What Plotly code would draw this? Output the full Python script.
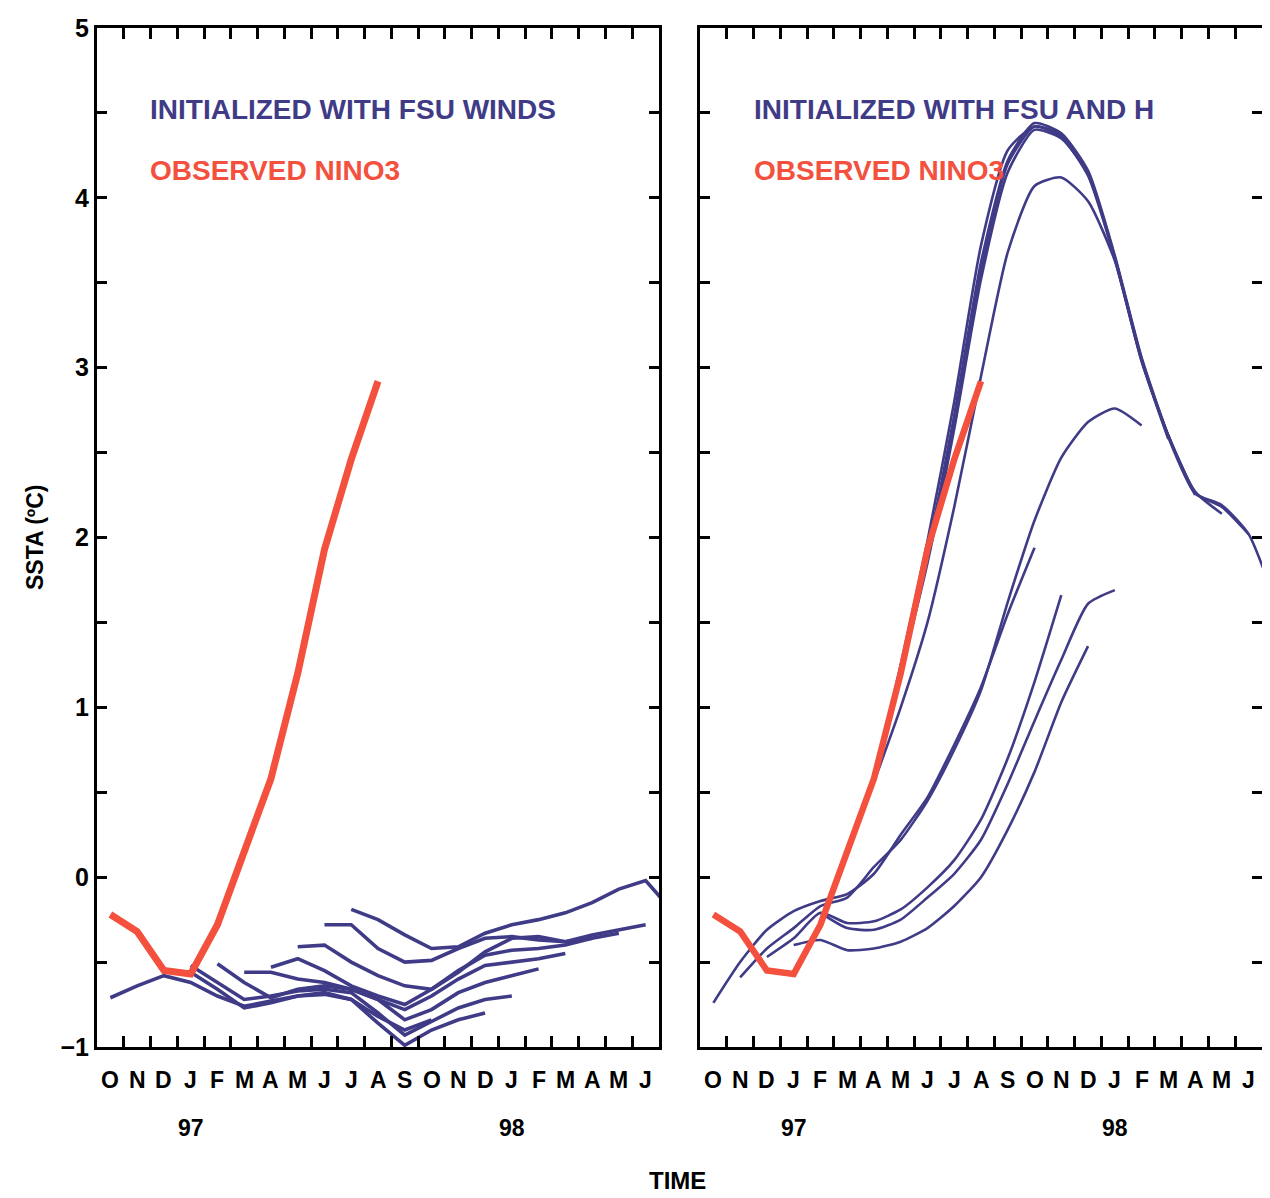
import plotly.graph_objects as go

# ---------------- data ----------------
months = ["O", "N", "D", "J", "F", "M", "A", "M", "J", "J", "A",
          "S", "O", "N", "D", "J", "F", "M", "A", "M", "J"]
year_labels = ["97", "98"]
year_month_index = [3, 15]
y_major = [-1, 0, 1, 2, 3, 4, 5]

# observed NINO3 (starts Oct 96, month index 0)
observed_nino3 = [-0.22, -0.32, -0.55, -0.57, -0.28, 0.15, 0.58, 1.20, 1.93, 2.46, 2.92]

# forecasts initialized with FSU winds: (start month index, values)
fsu_oct = (0, [-0.71, -0.64, -0.58, -0.62, -0.70, -0.76, -0.73, -0.70, -0.69, -0.72, -0.82, -0.90, -0.84])
fsu_dec = (2, [-0.55, -0.56, -0.66, -0.77, -0.74, -0.70, -0.68, -0.72, -0.86, -0.99, -0.90, -0.84, -0.80])
fsu_jan = (3, [-0.52, -0.62, -0.72, -0.70, -0.67, -0.66, -0.68, -0.80, -0.93, -0.85, -0.77, -0.72, -0.70])
fsu_feb = (4, [-0.51, -0.62, -0.71, -0.66, -0.64, -0.66, -0.72, -0.84, -0.78, -0.68, -0.62, -0.58, -0.54])
fsu_mar = (5, [-0.56, -0.56, -0.60, -0.62, -0.66, -0.72, -0.78, -0.70, -0.60, -0.52, -0.50, -0.48, -0.45])
fsu_apr = (6, [-0.53, -0.48, -0.55, -0.64, -0.70, -0.75, -0.66, -0.55, -0.46, -0.43, -0.42, -0.40, -0.36])
fsu_may = (7, [-0.41, -0.40, -0.50, -0.58, -0.64, -0.66, -0.56, -0.44, -0.36, -0.35, -0.38, -0.36, -0.33])
fsu_jun = (8, [-0.28, -0.28, -0.42, -0.50, -0.49, -0.42, -0.36, -0.35, -0.37, -0.38, -0.34, -0.31, -0.28])
fsu_jul = (9, [-0.19, -0.25, -0.34, -0.42, -0.41, -0.33, -0.28, -0.25, -0.21, -0.15, -0.07, -0.02, -0.20])

# forecasts initialized with FSU and H
fsuh_oct = (0, [-0.74, -0.50, -0.31, -0.20, -0.14, -0.10, 0.02, 0.25, 0.47, 0.78, 1.12, 1.55, 1.94])
fsuh_nov = (1, [-0.59, -0.42, -0.30, -0.17, -0.12, 0.06, 0.22, 0.45, 0.75, 1.10, 1.62, 2.10, 2.47, 2.68, 2.76, 2.66])
fsuh_dec = (2, [-0.47, -0.36, -0.21, -0.27, -0.26, -0.19, -0.06, 0.10, 0.34, 0.70, 1.15, 1.66])
fsuh_jan = (3, [-0.40, -0.37, -0.43, -0.42, -0.38, -0.30, -0.17, 0.00, 0.28, 0.62, 1.03, 1.36])
fsuh_feb = (4, [-0.21, -0.30, -0.31, -0.25, -0.12, 0.02, 0.22, 0.55, 0.92, 1.28, 1.61, 1.69])
fsuh_mar = (5, [0.15, 0.60, 1.25, 1.98, 2.80, 3.72, 4.28, 4.42, 4.36, 4.13, 3.64, 3.04, 2.58])
fsuh_apr = (6, [0.58, 1.18, 1.90, 2.72, 3.62, 4.22, 4.44, 4.38, 4.16, 3.66, 3.06, 2.60, 2.25])
fsuh_apr2 = (6, [0.56, 1.00, 1.50, 2.18, 2.95, 3.68, 4.07, 4.12, 3.98, 3.63, 3.04, 2.60, 2.26, 2.18, 2.02])
fsuh_may = (7, [1.20, 1.85, 2.64, 3.52, 4.15, 4.40, 4.35, 4.14, 3.65, 3.05, 2.60, 2.27, 2.14])
fsuh_jun = (8, [1.93, 2.66, 3.56, 4.20, 4.42, 4.37, 4.15, 3.65, 3.05, 2.59, 2.26, 2.19, 2.02, 1.62])

fsu_runs = [fsu_oct, fsu_dec, fsu_jan, fsu_feb, fsu_mar, fsu_apr, fsu_may, fsu_jun, fsu_jul]
fsuh_runs = [fsuh_oct, fsuh_nov, fsuh_dec, fsuh_jan, fsuh_feb, fsuh_mar, fsuh_apr,
             fsuh_apr2, fsuh_may, fsuh_jun]

# ---------------- style ----------------
W, H = 1270, 1198
OFF = 8  # page body margin
BLUE = "#3f3b86"
RED = "#f4503e"
FONT = "Liberation Sans"


def px(p):
    return (p - OFF) / W


def py(p):
    return 1 - (p - OFF) / H


fig = go.Figure()


def month_x(start, n):
    return [start + i + 0.5 for i in range(n)]


for start, vals in fsu_runs:
    fig.add_trace(go.Scatter(x=month_x(start, len(vals)), y=vals, mode="lines",
                             line=dict(color=BLUE, width=3.6), xaxis="x", yaxis="y",
                             showlegend=False, hoverinfo="skip"))
fig.add_trace(go.Scatter(x=month_x(0, len(observed_nino3)), y=observed_nino3, mode="lines",
                         line=dict(color=RED, width=7), xaxis="x", yaxis="y",
                         showlegend=False, hoverinfo="skip"))

for start, vals in fsuh_runs:
    fig.add_trace(go.Scatter(x=month_x(start, len(vals)), y=vals, mode="lines",
                             line=dict(color=BLUE, width=2.6, shape="spline", smoothing=0.6),
                             xaxis="x2", yaxis="y2", showlegend=False, hoverinfo="skip"))
fig.add_trace(go.Scatter(x=month_x(0, len(observed_nino3)), y=observed_nino3, mode="lines",
                         line=dict(color=RED, width=6.5), xaxis="x2", yaxis="y2",
                         showlegend=False, hoverinfo="skip"))

xdom_left = [px(97), px(659)]
xdom_right = [px(700), px(1262)]
ydom = [py(1047), py(28)]

xcommon = dict(range=[0, 21], tickvals=list(range(1, 21)), showticklabels=False,
               ticks="inside", ticklen=11, tickwidth=2.5, tickcolor="black",
               showline=True, linewidth=3, linecolor="black", mirror="ticks",
               showgrid=False, zeroline=False, fixedrange=True)
ycommon = dict(range=[-1, 5], tickvals=y_major,
               ticks="inside", ticklen=10, tickwidth=2.5, tickcolor="black",
               minor=dict(tick0=0, dtick=0.5, ticks="inside", ticklen=10, tickwidth=2.5,
                          tickcolor="black", showgrid=False),
               showline=True, linewidth=3, linecolor="black", mirror="ticks",
               showgrid=False, zeroline=False, domain=ydom,
               tickfont=dict(family=FONT, size=25, color="black", weight="bold"))

fig.update_layout(
    width=W, height=H, margin=dict(l=0, r=0, t=0, b=0, autoexpand=False),
    paper_bgcolor="white", plot_bgcolor="white",
    xaxis=dict(domain=xdom_left, anchor="y", **xcommon),
    yaxis=dict(anchor="x", showticklabels=True, **ycommon),
    xaxis2=dict(domain=xdom_right, anchor="y2", **xcommon),
    yaxis2=dict(anchor="x2", showticklabels=False, **ycommon),
)

ann = []
for xr in ["x", "x2"]:
    for i, m in enumerate(months):
        ann.append(dict(x=i + 0.5, y=py(1080), xref=xr, yref="paper", text=m,
                        showarrow=False, xanchor="center", yanchor="middle",
                        font=dict(family=FONT, size=23, color="black", weight="bold")))
    for lab, mi in zip(year_labels, year_month_index):
        ann.append(dict(x=mi + 0.5, y=py(1128), xref=xr, yref="paper", text=lab,
                        showarrow=False, xanchor="center", yanchor="middle",
                        font=dict(family=FONT, size=23, color="black", weight="bold")))

ann.append(dict(x=px(678), y=py(1180), xref="paper", yref="paper", text="TIME",
                showarrow=False, xanchor="center", yanchor="middle",
                font=dict(family=FONT, size=24, color="black", weight="bold")))
ann.append(dict(x=px(35), y=py(537), xref="paper", yref="paper", text="SSTA (ºC)",
                showarrow=False, xanchor="center", yanchor="middle", textangle=-90,
                font=dict(family=FONT, size=23, color="black", weight="bold")))

titles = [("INITIALIZED WITH FSU WINDS", 148, 110, BLUE),
          ("OBSERVED NINO3", 148, 170, RED),
          ("INITIALIZED WITH FSU AND H", 752, 110, BLUE),
          ("OBSERVED NINO3", 752, 170, RED)]
for txt, x0, y0, c in titles:
    ann.append(dict(x=px(x0), y=py(y0), xref="paper", yref="paper", text=txt,
                    showarrow=False, xanchor="left", yanchor="middle",
                    font=dict(family=FONT, size=28, color=c, weight="bold")))

fig.update_layout(annotations=ann)
fig.write_html("out.html")
